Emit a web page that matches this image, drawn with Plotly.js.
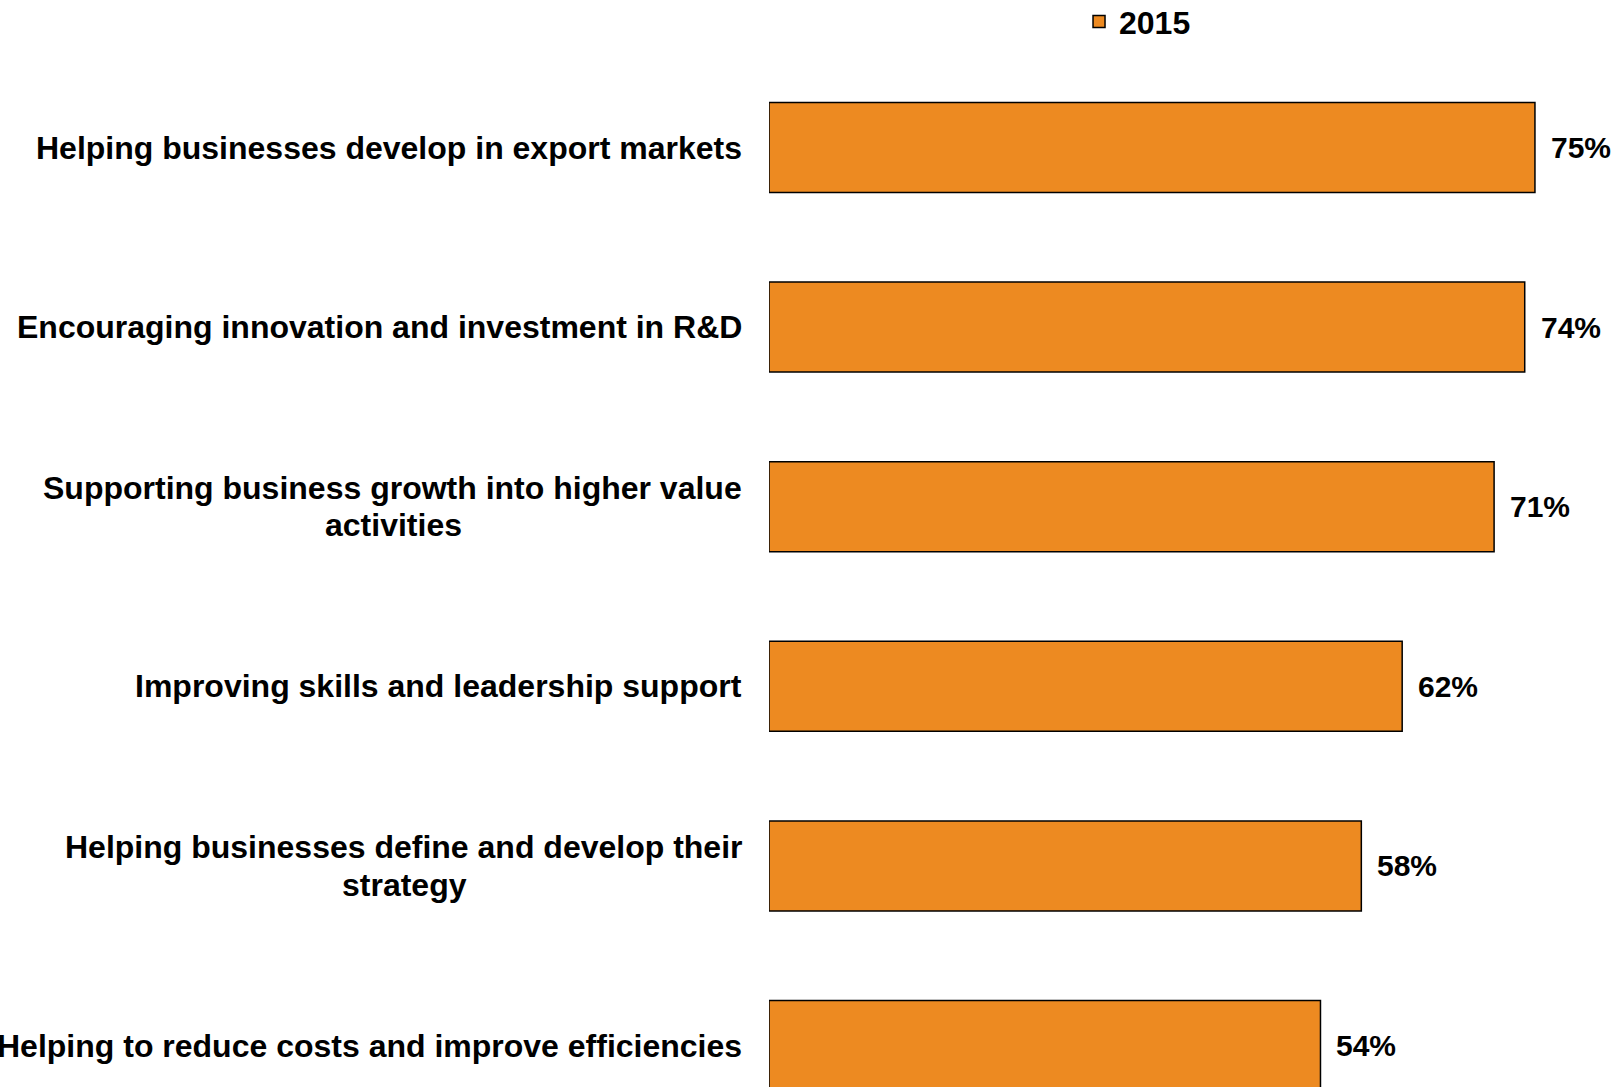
<!DOCTYPE html>
<html>
<head>
<meta charset="utf-8">
<script src="https://cdn.plot.ly/plotly-3.0.1.min.js"></script>
<style>html,body{margin:0;padding:0;background:#fff;}#chart{width:1624px;height:1087px;}</style>
</head>
<body>
<div id="chart"></div>
<script>
// Data
const categories = [
  "Helping businesses develop in export markets",
  "Encouraging innovation and investment in R&D",
  "Supporting business growth into higher value<br>activities",
  "Improving skills and leadership support",
  "Helping businesses define and develop their<br>strategy",
  "Helping to reduce costs and improve efficiencies"
];
const values2015 = [75, 74, 71, 62, 58, 54];
const valueLabels = ["75%", "74%", "71%", "62%", "58%", "54%"];
const seriesName = "2015";

const FONT = "Liberation Sans, Arial, sans-serif";
const orange = "#ED8A21";
const LABEL_SIZE = 32;

const trace = {
  type: "bar",
  orientation: "h",
  name: seriesName,
  x: values2015,
  y: categories,
  marker: { color: orange, line: { color: "#000", width: 1.5 } },
  hoverinfo: "none",
  showlegend: true
};

// measure text width for centering wrapped label lines
const cv = document.createElement("canvas").getContext("2d");
cv.font = "bold " + LABEL_SIZE + "px 'Liberation Sans', Arial, sans-serif";

const labelFont = { family: FONT, size: LABEL_SIZE, color: "#000", weight: 700 };
const annotations = [];
categories.forEach((c, i) => {
  const lines = c.split("<br>");
  if (lines.length === 1) {
    annotations.push({
      xref: "x", yref: "y", x: 0, y: c, text: c, showarrow: false,
      xanchor: "right", yanchor: "middle", xshift: -26, borderpad: 0, font: labelFont
    });
  } else {
    const w1 = cv.measureText(lines[0]).width;
    annotations.push({
      xref: "x", yref: "y", x: 0, y: c, text: lines[0], showarrow: false,
      xanchor: "right", yanchor: "middle", xshift: -26, yshift: 18.7, borderpad: 0, font: labelFont
    });
    annotations.push({
      xref: "x", yref: "y", x: 0, y: c, text: lines[1], showarrow: false,
      xanchor: "center", yanchor: "middle", xshift: -26 - w1 / 2, yshift: -18.6, borderpad: 0, font: labelFont
    });
  }
  annotations.push({
    xref: "x", yref: "y", x: values2015[i], y: c,
    text: valueLabels[i], showarrow: false,
    xanchor: "left", yanchor: "middle",
    xshift: 14,
    font: { family: FONT, size: 30, color: "#000", weight: 700 }
  });
});

const layout = {
  width: 1624, height: 1087,
  margin: { l: 769, r: 0, t: 58, b: 0, pad: 0, autoexpand: false },
  paper_bgcolor: "#fff", plot_bgcolor: "#fff",
  bargap: 0.499,
  showlegend: true,
  legend: {
    orientation: "h", x: 0.3626, xanchor: "left", y: 1.0352, yanchor: "middle",
    font: { family: FONT, size: 32, color: "#000", weight: 700 },
    bgcolor: "rgba(0,0,0,0)"
  },
  xaxis: { range: [0, 83.72], showgrid: false, zeroline: false, showticklabels: false, showline: false, ticks: "" },
  yaxis: { type: "category", categoryorder: "array", categoryarray: categories,
           range: [5.231, -0.4983], showgrid: false, zeroline: false, showticklabels: false, showline: false, ticks: "" },
  annotations: annotations
};

Plotly.newPlot("chart", [trace], layout, { displayModeBar: false, staticPlot: true });
</script>
</body>
</html>
